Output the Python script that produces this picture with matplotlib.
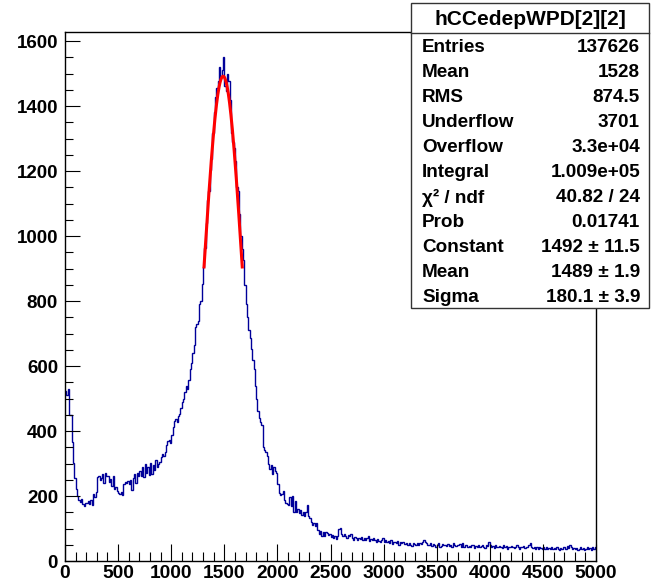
import numpy as np
import matplotlib
matplotlib.use("Agg")
import matplotlib.pyplot as plt
from matplotlib.ticker import MultipleLocator

# ---------------- data ----------------
x_min, x_max = 0.0, 5000.0
n_bins = 400

counts = [
    # 0-100
    522, 510, 528, 450, 448, 365, 302, 255,
    # 100-200
    222, 200, 188, 182, 190, 176, 168, 180,
    # 200-300
    178, 184, 176, 188, 172, 205, 196, 212,
    # 300-400
    258, 262, 250, 256, 268, 240, 272, 262,
    # 400-500
    262, 244, 252, 230, 262, 222, 228, 214,
    # 500-600
    208, 205, 212, 202, 236, 242, 240, 246,
    # 600-700
    238, 250, 220, 256, 268, 240, 272, 262,
    # 700-800
    278, 262, 288, 258, 298, 270, 290, 266,
    # 800-900
    302, 268, 296, 280, 312, 290, 300, 304,
    # 900-1000
    320, 330, 322, 336, 356, 368, 372, 364,
    # 1000-1100
    388, 412, 430, 436, 428, 446, 452, 470,
    # 1100-1200
    488, 500, 520, 540, 528, 556, 590, 610,
    # 1200-1300
    640, 665, 720, 730, 738, 792, 800, 852,
    # 1300-1400
    905, 962, 1040, 1112, 1138, 1204, 1236, 1318,
    # 1400-1500
    1382, 1428, 1455, 1476, 1520, 1488, 1510, 1550,
    # 1500-1600
    1462, 1445, 1498, 1478, 1420, 1318, 1290, 1270,
    # 1600-1700
    1232, 1150, 1140, 1068, 1000, 960, 925, 848,
    # 1700-1800
    790, 752, 712, 686, 652, 618, 590, 540,
    # 1800-1900
    498, 462, 440, 428, 420, 350, 342, 334,
    # 1900-2000
    322, 300, 282, 294, 268, 290, 276, 272,
    # 2000-2100
    236, 210, 204, 206, 214, 188, 180, 176,
    # 2100-2200
    172, 196, 168, 200, 150, 186, 152, 160,
    # 2200-2300
    148, 156, 142, 150, 140, 152, 172, 138,
    # 2300-2400
    132, 120, 112, 118, 108, 116, 96, 84,
    # 2400-2500
    92, 78, 88, 76, 90, 86, 80, 84,
    # 2500-2600
    74, 80, 72, 76, 68, 78, 98, 102,
    # 2600-2700
    84, 76, 82, 78, 70, 80, 76, 84,
    # 2700-2800
    72, 66, 74, 70, 64, 72, 68, 74,
    # 2800-2900
    66, 72, 64, 70, 76, 62, 68, 66,
    # 2900-3000
    70, 64, 60, 68, 62, 58, 66, 72,
    # 3000-3100
    60, 66, 58, 62, 54, 64, 52, 60,
    # 3100-3200
    58, 56, 62, 50, 58, 54, 60, 52,
    # 3200-3300
    52, 56, 48, 54, 50, 46, 56, 52,
    # 3300-3400
    48, 54, 50, 56, 52, 58, 66, 60,
    # 3400-3500
    56, 50, 48, 54, 46, 52, 50, 44,
    # 3500-3600
    50, 54, 42, 46, 52, 48, 50, 46,
    # 3600-3700
    52, 46, 50, 44, 54, 48, 46, 50,
    # 3700-3800
    48, 52, 44, 56, 42, 48, 50, 44,
    # 3800-3900
    46, 42, 48, 50, 40, 46, 44, 48,
    # 3900-4000
    42, 46, 50, 44, 40, 48, 46, 60,
    # 4000-4100
    48, 44, 46, 40, 50, 44, 42, 46,
    # 4100-4200
    44, 40, 48, 42, 46, 38, 44, 42,
    # 4200-4300
    46, 42, 40, 44, 48, 42, 38, 44,
    # 4300-4400
    42, 46, 40, 44, 42, 48, 54, 44,
    # 4400-4500
    40, 42, 38, 44, 36, 42, 40, 38,
    # 4500-4600
    42, 38, 44, 36, 40, 38, 42, 36,
    # 4600-4700
    40, 36, 42, 38, 34, 40, 38, 42,
    # 4700-4800
    44, 38, 46, 40, 48, 42, 38, 40,
    # 4800-4900
    36, 40, 34, 38, 42, 36, 40, 34,
    # 4900-5000
    38, 42, 36, 40, 34, 42, 38, 44,
]

# Gaussian fit parameters (from the stats box)
fit_const = 1492.0
fit_mean = 1489.0
fit_sigma = 180.1
fit_lo, fit_hi = fit_mean - fit_sigma, fit_mean + fit_sigma

hist_name = "hCCedepWPD[2][2]"
stat_labels = ["Entries", "Mean", "RMS", "Underflow", "Overflow", "Integral",
               "\u03c7\u00b2 / ndf", "Prob", "Constant", "Mean", "Sigma"]
stat_values = ["137626", "1528", "874.5", "3701", "3.3e+04", "1.009e+05",
               "40.82 / 24", "0.01741", "1492 \u00b1 11.5", "1489 \u00b1 1.9",
               "180.1 \u00b1 3.9"]

x_ticks = [0, 500, 1000, 1500, 2000, 2500, 3000, 3500, 4000, 4500, 5000]
y_ticks = [0, 200, 400, 600, 800, 1000, 1200, 1400, 1600]
y_max = 1628

# ---------------- plot ----------------
plt.rcParams['font.family'] = ['Liberation Sans', 'DejaVu Sans']

W, H = 651, 585
fig = plt.figure(figsize=(W / 100, H / 100), dpi=100)
ax = fig.add_axes([65 / W, 1 - 561 / H, (596 - 65) / W, (561 - 32) / H])

edges = np.linspace(x_min, x_max, n_bins + 1)
ax.stairs(counts, edges, baseline=None, color='#000099', linewidth=1.0)

xf = np.linspace(fit_lo, fit_hi, 200)
yf = fit_const * np.exp(-0.5 * ((xf - fit_mean) / fit_sigma) ** 2)
ax.plot(xf, yf, color='#ff0000', linewidth=2.2)

ax.set_xlim(x_min, x_max)
ax.set_ylim(0, y_max)
ax.set_xticks(x_ticks)
ax.set_yticks(y_ticks)
ax.xaxis.set_minor_locator(MultipleLocator(100))
ax.yaxis.set_minor_locator(MultipleLocator(50))

ax.tick_params(axis='x', which='major', direction='in', length=12, width=0.8,
               labelsize=13.8, pad=3, top=False)
ax.tick_params(axis='x', which='minor', direction='in', length=6.5, width=0.8, top=False)
ax.tick_params(axis='y', which='major', direction='in', length=11, width=0.8,
               labelsize=13.5, pad=5, right=False)
ax.tick_params(axis='y', which='minor', direction='in', length=6, width=0.8, right=False)
for lab in ax.get_xticklabels() + ax.get_yticklabels():
    lab.set_fontweight('bold')
for sp in ax.spines.values():
    sp.set_linewidth(1.0)
    sp.set_color('black')

# ---------------- stats box ----------------
bx0, bx1 = 411 / W, 649 / W
by_top, by_bot = 1 - 3 / H, 1 - 308 / H
sep = 1 - 33 / H
box = plt.Rectangle((bx0, by_bot), bx1 - bx0, by_top - by_bot, transform=fig.transFigure,
                    facecolor='white', edgecolor='#333333', linewidth=1.0, zorder=5)
fig.add_artist(box)
fig.add_artist(plt.Line2D([bx0, bx1], [sep, sep], transform=fig.transFigure,
                          color='#333333', linewidth=1.0, zorder=6))
fig.text((bx0 + bx1) / 2, 1 - 19.5 / H, hist_name, ha='center', va='center',
         fontsize=15, fontweight='bold', zorder=7)
row_h = (308 - 33) / len(stat_labels)
for i, (lab, val) in enumerate(zip(stat_labels, stat_values)):
    yc = 1 - (35 + row_h * (i + 0.5)) / H
    fig.text(422 / W, yc, lab, ha='left', va='center', fontsize=13.6,
             fontweight='bold', zorder=7)
    fig.text(640 / W, yc, val, ha='right', va='center', fontsize=13.6,
             fontweight='bold', zorder=7)

fig.savefig('out.png', dpi=100, facecolor='white')
